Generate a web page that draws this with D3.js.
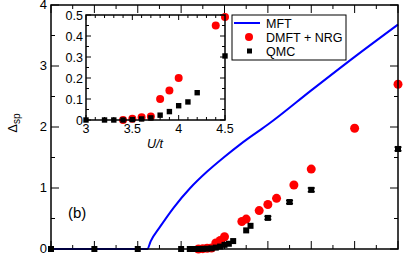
<!DOCTYPE html>
<html lang="en">
<head>
  <meta charset="UTF-8">
  <script src="https://cdn.jsdelivr.net/npm/d3@7"></script>
  <style>
    body { margin: 0; background: #fff; }
    text { font-family: "Liberation Sans", Arial, sans-serif; fill: #000; }
  </style>
</head>
<body>
<div id="chart"></div>
<script>
  // MFT curve
  var mftU = [0, 2.22, 2.3, 2.52, 2.83, 3.21, 3.6, 3.98, 4.37, 4.72, 5.0, 6.0, 7.0, 8.0];
  var mftD = [0, 0, 0.13, 0.37, 0.68, 1.0, 1.27, 1.5, 1.72, 1.9, 2.04, 2.6, 3.15, 3.68];

  // DMFT + NRG
  var nrgU = [3.4, 3.5, 3.6, 3.7, 3.8, 3.9, 4.0, 4.4, 4.5, 4.8, 5.0, 5.2, 5.6, 6.0, 7.0, 8.0];
  var nrgD = [0, 0.006, 0.013, 0.017, 0.10, 0.14, 0.20, 0.45, 0.49, 0.63, 0.73, 0.83, 1.05, 1.31, 1.98, 2.70];

  // QMC
  var qmcU = [0, 1, 2, 3, 3.2, 3.3, 3.4, 3.5, 3.6, 3.7, 3.8, 3.9, 4.0, 4.1, 4.2, 4.5, 4.6, 5.0, 5.5, 6.0, 8.0];
  var qmcD = [0, 0, 0, 0, 0, 0, 0, 0.002, 0.005, 0.01, 0.023, 0.04, 0.068, 0.086, 0.13, 0.305, 0.38, 0.51, 0.77, 0.97, 1.64];
  var qmcErr = [0, 0, 0, 0, 0, 0, 0, 0, 0, 0, 0, 0, 0, 0, 0, 0, 0, 0.025, 0.025, 0.03, 0.03];

  var mainYTicks = [0, 1, 2, 3, 4];
  var insetXTicks = [3, 3.5, 4, 4.5];
  var insetYTicks = [0, 0.1, 0.2, 0.3, 0.4, 0.5];
  var legendLabels = ["MFT", "DMFT + NRG", "QMC"];

  var mft = mftU.map(function(u, i) { return {u: u, d: mftD[i]}; });
  var nrg = nrgU.map(function(u, i) { return {u: u, d: nrgD[i]}; });
  var qmc = qmcU.map(function(u, i) { return {u: u, d: qmcD[i], e: qmcErr[i]}; });

  var svg = d3.select("#chart").append("svg")
    .attr("width", 403).attr("height", 255);

  // scales
  var x = d3.scaleLinear().domain([0, 8]).range([51, 398]);
  var y = d3.scaleLinear().domain([0, 4]).range([249, 5]);
  var xi = d3.scaleLinear().domain([3, 4.5]).range([86, 225]);
  var yi = d3.scaleLinear().domain([0, 0.5]).range([120, 15]);

  // white panel + inward ticks on all four sides, returns a function drawing the border
  function frame(g, sx, sy, xMajor, xMinor, yMajor, yMinor, ml, mn, sw) {
    var x0 = sx.range()[0], x1 = sx.range()[1], y0 = sy.range()[0], y1 = sy.range()[1];
    g.append("rect").attr("x", x0).attr("y", y1).attr("width", x1 - x0).attr("height", y0 - y1)
      .attr("fill", "#fff").attr("stroke", "none");
    var t = g.append("g").attr("stroke", "#000").attr("stroke-width", 1);
    xMinor.forEach(function(v) {
      var L = xMajor.indexOf(v) >= 0 ? ml : mn;
      t.append("line").attr("x1", sx(v)).attr("x2", sx(v)).attr("y1", y0).attr("y2", y0 - L);
      t.append("line").attr("x1", sx(v)).attr("x2", sx(v)).attr("y1", y1).attr("y2", y1 + L);
    });
    yMinor.forEach(function(v) {
      var L = yMajor.indexOf(v) >= 0 ? ml : mn;
      t.append("line").attr("y1", sy(v)).attr("y2", sy(v)).attr("x1", x0).attr("x2", x0 + L);
      t.append("line").attr("y1", sy(v)).attr("y2", sy(v)).attr("x1", x1).attr("x2", x1 - L);
    });
    return function() {
      g.append("rect").attr("x", x0).attr("y", y1).attr("width", x1 - x0).attr("height", y0 - y1)
        .attr("fill", "none").attr("stroke", "#000").attr("stroke-width", sw);
    };
  }

  var r2 = function(a, b, s) { return d3.range(Math.round((b - a) / s) + 1).map(function(i) { return +(a + i * s).toFixed(3); }); };

  // main panel
  var main = svg.append("g");
  var closeMain = frame(main, x, y, r2(0, 8, 1), r2(0, 8, 0.5), r2(0, 4, 1), r2(0, 4, 0.5), 8, 4, 1.5);

  main.selectAll(".ytl").data(mainYTicks).enter().append("text")
    .attr("x", 47).attr("y", function(d) { return y(d); }).attr("dy", "0.34em")
    .attr("text-anchor", "end").attr("font-size", 13).text(function(d) { return d; });

  main.append("path").datum(mft)
    .attr("d", d3.line().curve(d3.curveMonotoneX)
      .x(function(d) { return x(d.u); }).y(function(d) { return y(d.d); }))
    .attr("fill", "none").attr("stroke", "#0000ff").attr("stroke-width", 2);

  main.selectAll(".nrg").data(nrg).enter().append("circle")
    .attr("cx", function(d) { return x(d.u); }).attr("cy", function(d) { return y(d.d); })
    .attr("r", 4.5).attr("fill", "#ff0000");

  var qm = main.selectAll(".qmc").data(qmc).enter().append("g");
  qm.filter(function(d) { return d.e > 0; }).each(function(d) {
    var g = d3.select(this);
    g.append("line").attr("x1", x(d.u)).attr("x2", x(d.u)).attr("y1", y(d.d - d.e)).attr("y2", y(d.d + d.e))
      .attr("stroke", "#000").attr("stroke-width", 1.5);
    [d.d - d.e, d.d + d.e].forEach(function(v) {
      g.append("line").attr("x1", x(d.u) - 3.5).attr("x2", x(d.u) + 3.5).attr("y1", y(v)).attr("y2", y(v))
        .attr("stroke", "#000").attr("stroke-width", 1.5);
    });
  });
  qm.append("rect")
    .attr("x", function(d) { return x(d.u) - 3; }).attr("y", function(d) { return y(d.d) - 3; })
    .attr("width", 6).attr("height", 6).attr("fill", "#000");

  closeMain();

  main.append("text").attr("x", 68).attr("y", 218).attr("font-size", 15).text("(b)");

  main.append("text")
    .attr("transform", "translate(17,123) rotate(-90)")
    .attr("text-anchor", "middle").attr("font-size", 13)
    .html('Δ<tspan font-size="10" dy="3">sp</tspan>');

  // inset
  var ins = svg.append("g");
  var closeInset = frame(ins, xi, yi, r2(3, 4.5, 0.5), r2(3, 4.5, 0.1), r2(0, 0.5, 0.1), r2(0, 0.5, 0.05), 5, 3, 1.5);

  ins.selectAll(".iyt").data(insetYTicks).enter().append("text")
    .attr("x", 83).attr("y", function(d) { return yi(d); }).attr("dy", "0.36em")
    .attr("text-anchor", "end").attr("font-size", 12.5).text(function(d) { return d; });
  ins.selectAll(".ixt").data(insetXTicks).enter().append("text")
    .attr("x", function(d) { return xi(d); }).attr("y", 133)
    .attr("text-anchor", "middle").attr("font-size", 12.5).text(function(d) { return d; });
  ins.append("text").attr("x", 155).attr("y", 148).attr("text-anchor", "middle")
    .attr("font-size", 12.5).attr("font-style", "italic").text("U/t");

  var inDom = function(d) { return d.u >= 3 && d.u <= 4.5 && d.d <= 0.5; };
  ins.selectAll(".inrg").data(nrg.filter(inDom)).enter().append("circle")
    .attr("cx", function(d) { return xi(d.u); }).attr("cy", function(d) { return yi(d.d); })
    .attr("r", 4).attr("fill", "#ff0000");
  ins.selectAll(".iqmc").data(qmc.filter(inDom)).enter().append("rect")
    .attr("x", function(d) { return xi(d.u) - 2.7; }).attr("y", function(d) { return yi(d.d) - 2.7; })
    .attr("width", 5.4).attr("height", 5.4).attr("fill", "#000");

  closeInset();

  // legend
  var lg = svg.append("g");
  lg.append("rect").attr("x", 232).attr("y", 15).attr("width", 114).attr("height", 45)
    .attr("fill", "#fff").attr("stroke", "#000").attr("stroke-width", 1);
  var items = lg.selectAll(".li").data(legendLabels).enter().append("g")
    .attr("transform", function(d, i) { return "translate(0," + (23 + i * 14) + ")"; });
  items.append("text").attr("x", 266).attr("dy", "0.36em").attr("font-size", 12.5)
    .text(function(d) { return d; });
  items.filter(function(d, i) { return i === 0; }).append("line")
    .attr("x1", 234).attr("x2", 260).attr("stroke", "#0000ff").attr("stroke-width", 2);
  items.filter(function(d, i) { return i === 1; }).append("circle")
    .attr("cx", 249).attr("r", 4).attr("fill", "#ff0000");
  items.filter(function(d, i) { return i === 2; }).append("rect")
    .attr("x", 247).attr("y", -2.5).attr("width", 5).attr("height", 5).attr("fill", "#000");
</script>
</body>
</html>
